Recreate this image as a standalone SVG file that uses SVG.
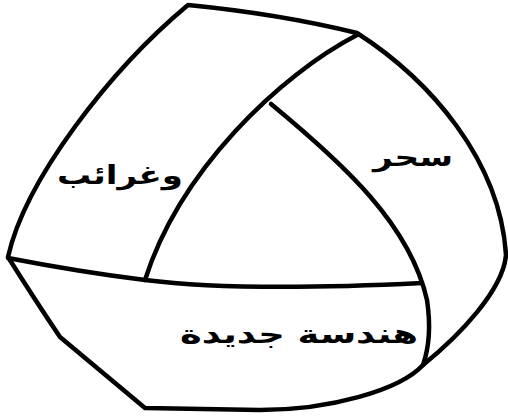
<svg xmlns="http://www.w3.org/2000/svg" width="508" height="417" viewBox="0 0 508 417">
<style>
.ln{fill:none;stroke:#000;stroke-width:4.5;stroke-linecap:round;stroke-linejoin:round}
.lb{font-family:"DejaVu Sans",sans-serif;font-weight:bold;fill:#000;direction:rtl}
</style>
<rect width="508" height="417" fill="#fff"/>
<g id="outline">
<path class="ln" d="M8,257 C25,180 110,70 188,5 Q280,14 357,33 C430,80 500,160 506,255 C503,290 460,335 423,365 C400,390 330,410 260,410 L145,408 L60,337 Q35,300 8,257 Z"/>
</g>
<g id="connectors">
<path class="ln" d="M357,35 C280,75 180,170 145,280"/>
<path class="ln" d="M8,258 Q80,272 145,280 Q240,292 422,283"/>
<path class="ln" d="M271,104 C345,165 410,225 427,300 C430,320 430,345 423,365"/>
</g>
<g id="label-left">
<text class="lb" x="183" y="184" font-size="26" text-anchor="start" textLength="126" lengthAdjust="spacingAndGlyphs">وغرائب</text>
</g>
<g id="label-right">
<text class="lb" x="453" y="166" font-size="26" text-anchor="start" textLength="80" lengthAdjust="spacingAndGlyphs">سحر</text>
</g>
<g id="label-bottom">
<text class="lb" x="418" y="343" font-size="26" text-anchor="start" textLength="238" lengthAdjust="spacingAndGlyphs">هندسة جديدة</text>
</g>
</svg>
